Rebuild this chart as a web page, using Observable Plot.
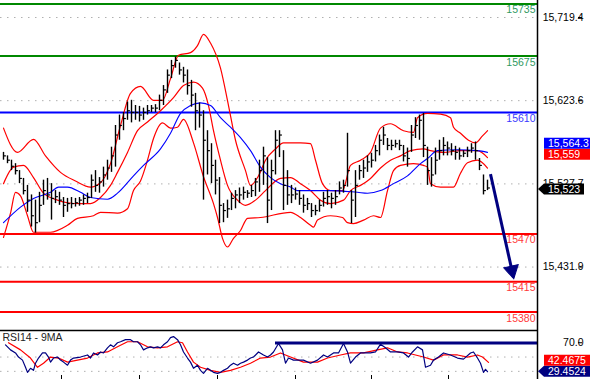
<!DOCTYPE html>
<html><head><meta charset="utf-8">
<script src="https://cdn.jsdelivr.net/npm/d3@7"></script>
<script src="https://cdn.jsdelivr.net/npm/@observablehq/plot@0.6"></script>
<style>
body{margin:0;background:#fff;}
#chart{position:relative;width:590px;height:379px;overflow:hidden;font-family:"Liberation Sans",Arial,sans-serif;}
#chart svg{position:absolute;left:0;overflow:visible;}
</style>
</head><body><div id="chart"></div>
<script>
// ---------- DATA ----------
const highs = [15564,15560,15555,15551,15543,15534,15526,15515,15509,15518,
15532,15534,15528,15520,15518,15512,15511,15512,15511,15512,
15515,15517,15538,15543,15535,15547,15555,15570,15595,15607,
15610,15622,15624,15618,15617,15615,15618,15618,15619,15630,
15641,15659,15670,15674,15667,15662,15659,15647,15632,15621,
15612,15589,15574,15555,15535,15505,15509,15517,15520,15523,
15524,15520,15526,15534,15555,15570,15558,15555,15589,15589,
15566,15543,15526,15523,15520,15515,15511,15505,15503,15509,
15518,15520,15517,15520,15530,15532,15586,15520,15543,15549,
15555,15560,15563,15572,15584,15593,15580,15578,15578,15578,
15572,15569,15595,15604,15607,15609,15570,15558,15569,15578,
15581,15576,15574,15571,15569,15566,15570,15574,15576,15557,
15538,15532];
const lows = [15555,15551,15543,15538,15528,15515,15495,15478,15471,15483,
15503,15509,15486,15505,15503,15489,15495,15499,15501,15502,
15503,15505,15511,15518,15517,15524,15532,15541,15547,15578,
15589,15601,15598,15601,15599,15601,15607,15610,15610,15612,
15618,15632,15649,15661,15653,15644,15630,15616,15589,15592,
15509,15538,15528,15515,15482,15483,15488,15497,15499,15505,
15509,15511,15512,15513,15518,15526,15482,15497,15538,15558,
15497,15503,15505,15509,15503,15494,15497,15489,15491,15495,
15501,15503,15499,15503,15515,15517,15524,15482,15489,15532,
15534,15541,15546,15553,15560,15572,15566,15566,15569,15566,
15553,15547,15564,15580,15578,15558,15526,15524,15538,15555,
15560,15560,15560,15555,15555,15558,15558,15563,15555,15543,
15515,15520];
const closes = [15560,15555,15548,15543,15534,15520,15509,15491,15483,15503,
15520,15515,15511,15513,15509,15503,15505,15505,15506,15509,
15511,15512,15532,15526,15530,15538,15546,15560,15584,15595,
15603,15612,15610,15610,15607,15610,15612,15615,15615,15624,
15636,15653,15664,15670,15659,15653,15641,15630,15612,15607,
15578,15566,15549,15532,15503,15497,15499,15511,15515,15515,
15518,15517,15520,15530,15543,15560,15509,15543,15578,15584,
15526,15515,15515,15516,15511,15503,15505,15497,15497,15503,
15511,15513,15511,15513,15523,15526,15543,15509,15526,15543,
15546,15553,15555,15566,15578,15584,15572,15572,15574,15572,
15560,15557,15584,15595,15601,15572,15543,15538,15555,15566,
15572,15569,15566,15564,15560,15563,15566,15569,15566,15549,
15520,15523];

// Bollinger upper / middle / lower and long MA: [bar index, price]
const upperBand = [[0,15592],[3.5,15564],[7.5,15579],[10.5,15560],[14.25,15541],[18,15531],[21.75,15524],[24.25,15529],[26.75,15551],[29.25,15595],[31.75,15632],[34.25,15640],[37.5,15624],[39.75,15624],[41.75,15649],[43.75,15676],[46.75,15679],[48.5,15687],[50,15700],[51.75,15690],[54.25,15661],[56.25,15618],[58,15578],[60.5,15543],[61.75,15526],[63.75,15537],[65.5,15555],[68,15568],[70,15575],[74.25,15575],[76.75,15574],[78,15555],[79.75,15528],[81.75,15520],[84.75,15520],[86.75,15549],[89.25,15555],[91.75,15564],[94.25,15592],[96.75,15597],[100,15589],[102.5,15587],[103.5,15604],[106,15609],[109.25,15608],[111.75,15604],[112.5,15593],[114.25,15586],[116.25,15578],[118,15575],[119.75,15583],[121,15589]];
const middleBand = [[0,15528],[2.5,15547],[5,15549],[7.5,15535],[10,15517],[13.5,15509],[16,15506],[19.25,15505],[21.75,15505],[24.25,15512],[26.75,15526],[28.5,15541],[31,15564],[33.5,15589],[36,15599],[39.25,15612],[42.5,15627],[45,15641],[47.5,15645],[49.75,15638],[51.25,15618],[52.5,15589],[54.25,15555],[56,15526],[58.5,15509],[60.5,15503],[63,15509],[65.5,15520],[69.25,15534],[71.75,15535],[74.25,15528],[76.75,15520],[79.25,15509],[81.75,15505],[85,15509],[86.75,15520],[89.25,15526],[91.75,15534],[94.25,15546],[96.75,15555],[99.25,15560],[101.75,15566],[105,15568],[106.75,15566],[110,15564],[114.25,15566],[118.5,15566],[121,15558]];
const lowerBand = [[0,15466],[1.75,15494],[3,15518],[4.25,15514],[6,15491],[7.5,15472],[11.75,15472],[16,15480],[18.5,15488],[22.5,15491],[24.25,15495],[28.5,15494],[31,15499],[32.5,15520],[34.25,15531],[36,15555],[37.5,15580],[39.75,15598],[41.75,15592],[43.5,15593],[45,15602],[47.5,15575],[50,15536],[52.5,15505],[53.5,15489],[54.75,15465],[56,15455],[57.5,15465],[59.25,15474],[61,15488],[64.25,15489],[71.75,15495],[74.25,15489],[76.75,15480],[77.5,15478],[78.5,15486],[81.75,15491],[84.75,15489],[86,15483],[87.5,15482],[90,15486],[92.5,15491],[94.25,15489],[96,15520],[97.5,15543],[99.25,15549],[102.5,15551],[105,15549],[106,15547],[106.75,15528],[109.25,15524],[112.5,15524],[114.25,15540],[116,15552],[118.5,15555],[121,15546]];
const longMA = [[0,15483],[4.25,15501],[7.5,15511],[11.75,15518],[13.75,15524],[16,15524],[19.25,15518],[21.75,15512],[26,15510],[28.5,15517],[32.5,15537],[35,15549],[39.25,15568],[41.75,15586],[44.25,15609],[46.75,15618],[49.25,15621],[51.75,15618],[54.25,15604],[56.75,15593],[59.25,15581],[61.75,15566],[64.25,15547],[66.75,15535],[69.25,15528],[71.75,15524],[73.5,15520],[81.75,15520],[88.5,15518],[91,15517],[94.25,15520],[97.5,15528],[101,15537],[104.25,15551],[106,15557],[108.5,15566],[113.5,15567],[118.5,15566],[121,15564]];

// RSI14 and its 9MA: [bar index, value]
const rsi14 = [[0.5,67.1],[1.75,60],[3,55.7],[3.75,50],[4.75,45.7],[5.5,35.7],[6,28.6],[6.75,34.3],[7.5,31.4],[8,41.4],[8.75,48.6],[9.75,55.7],[10.5,55.7],[11.25,50],[11.75,42.9],[12.5,48.6],[13.5,50],[14.25,45.7],[15,42.9],[16,38.6],[16.75,45.7],[17.5,48.6],[19.25,50],[21,52.9],[21.75,48.6],[22.5,55.7],[23.5,52.9],[24.25,57.1],[25,55.7],[26,62.9],[26.75,67.1],[27.5,64.3],[28.5,70],[29.25,71.4],[30.5,74.3],[31.75,74.3],[32.5,71.4],[33.5,71.4],[34.25,67.1],[35,60],[36,62.9],[36.75,64.3],[37.5,62.9],[38.5,64.3],[39.25,62.9],[40,67.1],[41,71.4],[41.75,77.1],[42.5,78.6],[43.5,74.3],[44.25,67.1],[45,57.1],[46,48.6],[46.75,42.9],[47.5,34.3],[48.5,38.6],[49.25,31.4],[50,27.1],[51,34.3],[51.75,31.4],[52.5,28.6],[53.5,27.1],[54.25,28.6],[55,31.4],[56,34.3],[56.75,38.6],[57.5,41.4],[58.5,38.6],[59.25,41.4],[60,42.9],[61,45.7],[61.75,48.6],[62.5,50],[63.75,57.1],[65,52.9],[66,50],[66.75,52.9],[67.5,57.1],[68.75,69],[69.75,60],[70.5,41.4],[71.25,48.6],[72.5,45.7],[73.75,45.7],[75,45.7],[76.75,41.4],[78.5,45.7],[80,52.9],[81,50],[82.5,55.7],[83.75,55.7],[85,69],[86,57.1],[86.75,41.4],[88,50],[89.25,55.7],[90.5,55.7],[91.75,55.7],[93,57.1],[94.25,68],[95.5,62.9],[96.75,57.1],[98.5,57.1],[100,55.7],[101.25,50],[102.25,57.1],[103.5,64.3],[104.75,60],[105.5,35.7],[106.75,38.6],[107.5,45.7],[108.75,50],[110,55.7],[111.75,52.9],[113.5,48.6],[115,47.1],[116.75,55.7],[117.5,57.1],[118.5,48.6],[119.25,41.4],[120,28.6],[120.5,32.9],[121,29.5]];
const rsiMA9 = [[1.25,70],[4.25,60],[6.75,48.6],[8.5,35.7],[10,41.4],[11.75,50],[13.75,48.6],[16,42.9],[18.5,45.7],[21,48.6],[23.5,55.7],[26,57.1],[28.5,64.3],[31,71.4],[33.5,71.4],[36,64.3],[38.5,62.9],[41,64.3],[43.5,71.4],[44.75,70],[46,57.1],[47.5,42.9],[49.25,35.7],[51.75,31.4],[54.25,28.6],[56.75,31.4],[59.25,35.7],[61.75,41.4],[64.25,48.6],[66.75,50],[69.25,55.7],[71.75,50],[73.75,45.7],[75,42.9],[78.5,42.9],[81,48.6],[84.25,52.9],[86.75,55.7],[90,55.7],[93.5,60],[96,62.9],[98.5,57.1],[101,55.7],[105,50],[107.5,45.7],[110,52.9],[113.5,52.9],[116,50],[118.5,52.9],[119.75,50],[121.25,42.5]];

const priceTicks = [15431.9, 15527.7, 15623.6, 15719.4];
const levelValues = [15735, 15675, 15610, 15470, 15415, 15380];
const levelLineColors = ["#008800","#008800","#0000ff","#ff0000","#ff0000","#ff0000"];
const levelTextColors = ["#2f9a5f","#2f9a5f","#3a3aff","#ff3a3a","#ff3a3a","#ff3a3a"];
const rsiLabelTicks = [70];
const rsiGrid = [50, 30];
const rsiResistance = {from: 68, value: 69.6};
const forecastArrow = {x1: 121.75, y1: 15539, x2: 127.5, y2: 15420};
const timeTicks = [14.5, 34, 53.5, 73, 92, 111.25];
const lastPrice = 15523, bbUpperLast = 15564.3, bbMidLast = 15559;
const rsiLast = 29.4524, rsiMALast = 42.4675;

// ---------- CHART ----------
const xDomain = [-0.75, 133.5];
const yDomain = [15358.8, 15739];
const rsiDomain = [18.6, 87.1];
const font = {fontFamily: "'Liberation Sans', Arial, sans-serif", fontSize: "10.5px", background: "transparent", color: "black"};

const bars = highs.map((h, i) => ({i, high: h, low: lows[i], close: closes[i]}));
const levels = levelValues.map((v, k) => ({v, c: levelLineColors[k], tc: levelTextColors[k]}));
const P = d => d[0], V = d => d[1];

const main = Plot.plot({
  width: 590, height: 330,
  marginLeft: 0, marginRight: 53, marginTop: 0, marginBottom: 0,
  style: font,
  x: {domain: xDomain, axis: null, label: null},
  y: {domain: yDomain, axis: null, label: null},
  color: {type: "identity"},
  marks: [
    Plot.gridY(priceTicks, {stroke: "#b0b0b0", strokeOpacity: 1, strokeDasharray: "1.5,5.5"}),
    Plot.ruleY(levels, {y: "v", stroke: "c", strokeWidth: 2}),
    Plot.text(levels, {y: "v", text: d => String(d.v), frameAnchor: "right", textAnchor: "end", lineAnchor: "top", dy: 2, dx: -2, fill: "tc"}),
    Plot.line(upperBand, {x: P, y: V, stroke: "#ff0000", strokeWidth: 1.2, curve: "monotone-x"}),
    Plot.line(middleBand, {x: P, y: V, stroke: "#ff0000", strokeWidth: 1.2, curve: "monotone-x"}),
    Plot.line(lowerBand, {x: P, y: V, stroke: "#ff0000", strokeWidth: 1.2, curve: "monotone-x"}),
    Plot.line(longMA, {x: P, y: V, stroke: "#0000ff", strokeWidth: 1.1, curve: "monotone-x"}),
    Plot.ruleX(bars, {x: "i", y1: "low", y2: "high", stroke: "black", strokeWidth: 1.4}),
    Plot.link(bars, {x1: "i", x2: d => d.i + 0.6, y1: "close", y2: "close", stroke: "black", strokeWidth: 1.2}),
    Plot.link([forecastArrow], {x1: "x1", y1: "y1", x2: "x2", y2: "y2", stroke: "#000080", strokeWidth: 3}),
    Plot.dot([forecastArrow], {x: "x2", y: "y2", symbol: "triangle", r: 5.5, rotate: 167.5, dx: -1.6, dy: -7, fill: "#000080", stroke: "#000080", strokeWidth: 1}),
    Plot.ruleX([xDomain[1]], {stroke: "black", strokeWidth: 1.5}),
    Plot.axisY(priceTicks, {anchor: "right", label: null, tickSize: 4, tickPadding: 2, textAnchor: "end", dx: 40, tickFormat: d3.format(",.1f"), stroke: "black", fill: "black"})
  ]
});

const rsiPlot = Plot.plot({
  width: 590, height: 49,
  marginLeft: 0, marginRight: 53, marginTop: 0, marginBottom: 0,
  style: font,
  x: {domain: xDomain, axis: null, label: null},
  y: {domain: rsiDomain, axis: null, label: null},
  marks: [
    Plot.gridY(rsiGrid, {stroke: "#b0b0b0", strokeOpacity: 1, strokeDasharray: "1.5,5.5"}),
    Plot.ruleY([rsiResistance], {y: "value", x1: "from", x2: () => xDomain[1], stroke: "#000080", strokeWidth: 3}),
    Plot.line(rsiMA9, {x: P, y: V, stroke: "#ff0000", strokeWidth: 1.2}),
    Plot.line(rsi14, {x: P, y: V, stroke: "#000080", strokeWidth: 1.2}),
    Plot.text(["RSI14 - 9MA"], {frameAnchor: "top-left", dx: 2, dy: 3, lineAnchor: "top", textAnchor: "start", fill: "#222", fontSize: 10.5}),
    Plot.ruleY([rsiDomain[1]], {stroke: "black", strokeWidth: 1.5}),
    Plot.ruleX([xDomain[1]], {stroke: "black", strokeWidth: 1.5}),
    Plot.axisX(timeTicks, {anchor: "bottom", label: null, tickSize: -4, tickFormat: () => "", stroke: "black"}),
    Plot.axisY(rsiLabelTicks, {anchor: "right", label: null, tickSize: 4, tickPadding: 2, textAnchor: "end", dx: 40, tickFormat: d3.format(".1f"), stroke: "black", fill: "black"})
  ]
});

const chart = document.getElementById("chart");
main.style.top = "0px";
rsiPlot.style.top = "330px";
chart.append(main, rsiPlot);

// value boxes on the right axis
function box(svg, yPx, label, fill, arrow) {
  const h = 11, top = yPx - h / 2;
  const g = d3.select(svg).append("g");
  if (arrow) {
    g.append("path").attr("d", `M538,${yPx}L544,${top}L${arrow},${top}L${arrow},${top + h}L544,${top + h}Z`).attr("fill", fill);
  } else {
    g.append("rect").attr("x", 544).attr("y", top).attr("width", 46).attr("height", h).attr("fill", fill);
  }
  g.append("text").attr("x", 548).attr("y", yPx).attr("dy", "0.36em")
    .attr("text-anchor", "start")
    .attr("fill", "white").attr("font-size", "10.5px")
    .attr("font-family", "'Liberation Sans', Arial, sans-serif").text(label);
  return top;
}
const ys = main.scale("y");
const midTop = box(main, ys.apply(bbMidLast) - 2, d3.format(",")(bbMidLast), "#ff0000", 0);
box(main, midTop - 5.5, d3.format(",.1f")(bbUpperLast), "#0000ff", 0);
box(main, ys.apply(lastPrice) + 1.5, d3.format(",")(lastPrice), "#000000", 584);

const yr = rsiPlot.scale("y");
const lastY = yr.apply(rsiLast);
box(rsiPlot, lastY, d3.format(".4f")(rsiLast), "#000080", 600);
box(rsiPlot, Math.min(yr.apply(rsiMALast), lastY - 11), d3.format(".4f")(rsiMALast), "#ff0000", 0);
</script></body></html>
